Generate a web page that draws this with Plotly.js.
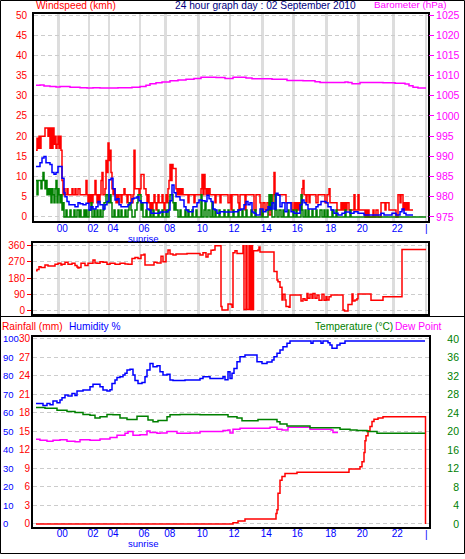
<!DOCTYPE html>
<html><head><meta charset="utf-8">
<script src="https://cdn.plot.ly/plotly-3.0.1.min.js"></script>
<style>html,body{margin:0;padding:0;background:#fff}#chart{width:465px;height:559px}</style>
</head><body><div id="chart"></div>
<script>
// ---- data (x = record index) ----
const hourTicks = [58.3, 89, 109, 140, 165.7, 198.3, 230, 262.3, 293.3, 326.7, 358.3, 393.3, 426];
const hourLabels = ['00','02','04','06','08','10','12','14','16','18','20','22',''];
const endLabel = '|';
const windTicks = [0,5,10,15,20,25,30,35,40,45,50];
const baroTicks = [975,980,985,990,995,1000,1005,1010,1015,1020,1025];
const dirTicks = [0,90,180,270,360];
const dirLabels = ['N','E','S','W','N'];
const rainTicks = [0,3,6,9,12,15,18,21,24,27,30];
const humTicks = [0,10,20,30,40,50,60,70,80,90,100];
const tempTicks = [0,4,8,12,16,20,24,28,32,36,40];

// wind gust (km/h)
const gust = [[36,16.5],[37,19.5],[38,17],[39,20],[40,17],[41,20],[43,20],[45,22],[48,20],[49,22],[50,17],[51,22],[52,17],[53,22],[54,18],[55,20],[56,17],[57,18],[58,20],[59,17],[60,20],[61,16.5],[62,9],[63,5.5],[64,7],[65,5.5],[67,7],[68,5.5],[72,7],[73,5.5],[75,7],[76,5.5],[78,7],[80,5.5],[86,9],[87,5.5],[88,3.5],[89,5.5],[90,3.5],[91,5.5],[92,3.5],[93,5.5],[95,9],[96,5.5],[97,3.5],[98,5.5],[99,3.5],[100,5.5],[101,9],[102,11],[103,5.5],[105,7],[106,14],[107,11],[108,18.3],[109,14],[110,16.5],[111,11],[112,7],[113,5.5],[114,7],[115,5.5],[116,3.5],[117,5.5],[118,3.5],[119,5.5],[121,3.5],[122,5.5],[124,7],[125,5.5],[127,3.5],[128,5.5],[131,3.5],[133,5.5],[134,16.5],[135,7],[139,5.5],[140,7],[141,10.5],[144,7],[146,5.5],[147,3.5],[148,5.5],[149,3.5],[150,1.7],[151,3.5],[152,1.7],[153,3.5],[154,5.5],[155,3.5],[156,1.7],[157,3.5],[158,5.5],[159,3.5],[162,5.5],[163,3.5],[164,1.7],[165,3.5],[166,5.5],[167,3.5],[168,7],[169,9],[170,13],[171,9],[172,13],[173,12],[176,7],[177,5.5],[178,7],[179,5.5],[180,7],[181,5.5],[182,7],[183,5.5],[188,3.5],[189,5.5],[194,3.5],[195,5.5],[201,7],[202,10.5],[203,5.5],[204,10.5],[205,7],[206,5.5],[207,7],[208,5.5],[209,7],[210,5.5],[215,3.5],[216,5.5],[220,3.5],[221,5.5],[228,3.5],[230,5.5],[231,1.7],[232,5.5],[238,3.5],[239,1.7],[240,5.5],[245,1.7],[246,5.5],[254,1.7],[256,5.5],[260,3.5],[261,0.5],[263,3.5],[265,1.7],[267,3.5],[269,0.5],[271,3.5],[273,5.5],[274,11],[275,5.5],[286,3.5],[292,1.7],[294,3.5],[295,1.7],[296,3.5],[297,1.7],[298,3.5],[299,1.7],[300,3.5],[302,7],[303,9],[304,5.5],[306,3.5],[307,5.5],[309,3.5],[310,5.5],[316,3.5],[318,5.5],[325,3.5],[327,5.5],[329,7],[330,3.5],[337,1.7],[341,3.5],[342,1.7],[343,3.5],[344,1.7],[345,3.5],[346,1.7],[347,3.5],[349,1.7],[354,5.5],[355,1.7],[358,5.5],[359,1.7],[365,0],[366,1.7],[367,0],[368,1.7],[369,0],[373,1.7],[374,0],[376,1.7],[378,0],[381,3.5],[385,1.7],[386,3.5],[389,1.7],[396,0],[398,5.5],[400,3.5],[401,5.5],[402,5.5],[403,1.7],[404,3.5],[405,1.7],[406,3.5],[407,1.7],[408,3.5],[409,1.7],[413,1.7]];

// wind speed (km/h)
const speed = [[36,9],[37,5.5],[38,9],[40,9],[41,7],[42,9],[43,11],[44,9],[45,7],[46,9],[47,5.5],[48,7],[49,5.5],[50,7],[51,3.5],[52,7],[53,5.5],[54,3.5],[55,7],[56,9],[57,3.5],[58,7],[59,5.5],[60,3.5],[61,5.5],[62,1.7],[63,3.5],[64,0],[66,1.7],[67,0],[70,1.7],[71,0],[74,1.7],[75,0],[77,1.7],[79,0],[80,1.7],[81,0],[84,1.7],[85,0],[86,1.7],[87,0],[89,1.7],[91,3.5],[92,0],[94,1.7],[95,0],[97,1.7],[98,0],[100,1.7],[101,0],[103,1.7],[104,3.5],[106,5.5],[108,3.5],[110,5.5],[111,3.5],[112,0],[114,1.7],[115,0],[118,1.7],[119,0],[121,1.7],[122,0],[125,1.7],[126,0],[128,1.7],[129,3.5],[131,1.7],[132,0],[135,1.7],[137,3.5],[138,5.5],[140,5.5],[141,1.7],[142,3.5],[143,0],[146,1.7],[147,0],[150,1.7],[151,0],[153,1.7],[154,0],[158,1.7],[159,0],[162,1.7],[163,0],[166,1.7],[167,0],[169,3.5],[170,5.5],[172,5.5],[173,3.5],[174,1.7],[175,3.5],[176,1.7],[178,0],[180,1.7],[181,0],[185,1.7],[186,0],[188,1.7],[189,0],[192,1.7],[193,0],[196,1.7],[197,0],[201,5.5],[202,0],[204,1.7],[205,3.5],[206,0],[208,1.7],[210,0],[212,3.5],[213,0],[215,1.7],[216,0],[219,1.7],[220,0],[224,1.7],[225,0],[228,1.7],[229,0],[233,1.7],[234,0],[238,1.7],[239,0],[242,1.7],[243,0],[246,1.7],[247,0],[251,1.7],[252,0],[255,1.7],[256,0],[262,1.7],[263,0],[268,1.7],[269,5.5],[270,1.7],[271,5.5],[272,0],[275,5.5],[276,1.7],[277,0],[279,1.7],[281,0],[283,1.7],[284,0],[288,1.7],[289,0],[293,1.7],[294,0],[296,1.7],[297,0],[301,5.5],[302,1.7],[303,0],[305,1.7],[306,0],[308,1.7],[309,0],[312,1.7],[313,0],[316,1.7],[317,0],[320,1.7],[322,0],[324,1.7],[325,0],[327,1.7],[328,0],[332,1.7],[333,0],[336,1.7],[337,0],[345,1.7],[346,0],[350,1.7],[351,0],[426,0]];

// average wind (km/h)
const avgWind = [[36,12.5],[38,12.5],[40,13.4],[42,14.6],[44,15],[46,13.4],[48,13.4],[50,13],[52,11],[54,10.6],[56,11],[58,12.5],[60,12.5],[62,9.6],[64,6],[65,5],[67,3.8],[69,3],[73,3],[75,2.5],[78,3.5],[80,3.3],[83,3],[86,3.4],[89,1.7],[91,2.5],[93,2],[96,2.5],[98,3.8],[100,3],[103,2],[105,3],[107,3.8],[109,9.2],[111,9.6],[113,7],[115,4.2],[117,4.5],[119,3],[121,2.5],[125,2.5],[128,3],[130,3.5],[132,4.5],[134,4.7],[137,5],[139,4],[141,3.5],[145,3.5],[147,2],[149,1.7],[151,0.9],[157,0.9],[160,1.2],[165,1.2],[168,1.7],[170,4],[172,7.9],[174,6],[176,5],[180,4.2],[184,2.5],[186,1.7],[188,1.3],[191,1.3],[193,2.5],[197,3.5],[199,4.2],[202,4],[205,3.8],[207,5.4],[209,4.5],[211,3.8],[213,2],[215,1.7],[217,0.9],[220,1.3],[224,1.2],[234,1.3],[238,1.7],[241,2],[244,3],[246,3.8],[248,3],[250,3.5],[252,1.2],[254,0.9],[256,0.5],[260,2],[263,1.3],[266,1.7],[268,2.5],[270,2],[272,3.5],[274,2],[276,5.9],[278,5.4],[280,2.5],[282,3.5],[285,1.3],[287,3.5],[291,1.3],[294,0.9],[300,3],[302,4.2],[304,3.5],[306,3],[308,2],[316,2.5],[318,3],[321,3.8],[326,3.5],[328,2.5],[331,1.7],[334,0.9],[338,0.5],[342,0.9],[345,1.2],[350,0.9],[354,1.3],[358,0.9],[364,0.5],[381,0.9],[384,0.5],[392,0.9],[396,0.5],[400,1.3],[402,2],[404,0.9],[406,0.5],[413,0.5]];

// barometer (hPa)
const baro = [[36,1007.6],[40,1007.7],[44,1007.4],[50,1007.3],[56,1007.2],[60,1007.3],[66,1007.3],[70,1007.1],[80,1007.0],[87,1006.9],[93,1007.0],[100,1006.9],[110,1006.9],[118,1007.0],[132,1007.1],[140,1007.3],[146,1007.6],[150,1008.0],[156,1008.2],[162,1008.4],[170,1008.7],[178,1008.9],[186,1009.1],[194,1009.3],[201,1009.6],[210,1009.6],[216,1009.5],[225,1009.3],[233,1009.6],[240,1009.6],[246,1009.4],[252,1009.2],[262,1009.2],[272,1009.1],[280,1009.1],[287,1008.8],[295,1008.8],[303,1008.7],[315,1008.5],[320,1008.3],[345,1008.4],[348,1008.3],[352,1008.0],[358,1008.0],[360,1008.3],[372,1008.3],[383,1008.2],[395,1008.1],[405,1007.9],[409,1007.5],[413,1007.1],[418,1006.9],[426,1006.9]];

// wind direction (degrees)
const direction = [[36,220],[37,227],[39,242],[41,237],[45,251],[48,246],[55,255],[58,260],[61,251],[62,255],[65,266],[68,255],[72,260],[75,248],[77,240],[78,234],[79,237],[81,260],[85,248],[88,260],[93,278],[95,262],[97,260],[100,269],[103,266],[107,255],[110,260],[115,255],[120,260],[125,257],[128,255],[132,287],[135,292],[138,287],[141,305],[144,309],[145,251],[153,251],[154,266],[157,262],[161,299],[163,269],[166,311],[168,333],[170,311],[173,305],[176,311],[187,314],[200,305],[203,318],[206,295],[208,311],[211,331],[213,333],[215,356],[220,356],[221,24],[222,5],[228,38],[231,35],[232,20],[233,318],[235,329],[237,314],[243,356],[244,8],[246,356],[247,8],[249,356],[250,8],[251,356],[252.5,8],[253.5,329],[258,333],[259,349],[260,322],[274,215],[277,169],[278,160],[280,129],[282,60],[283,92],[285,60],[286,24],[289,20],[290,87],[301,55],[303,67],[305,58],[307,95],[308,69],[310,91],[312,69],[313,95],[315,69],[317,87],[319,58],[322,91],[324,58],[326,78],[327,60],[329,78],[331,87],[343,5],[344.5,0],[348,35],[352,93],[353,55],[355,60],[357,67],[358,93],[371,58],[383,78],[402,336],[426,336]];

// humidity (%)
const humidity = [[36,65.2],[40,65.2],[43,64],[47,65.2],[50,64.5],[53,66.5],[57,65.5],[60,67],[62,68.3],[65,69.7],[68,69.2],[72,70.6],[75,69.5],[77,71.9],[83,72.4],[90,74.2],[93,75.5],[100,74.2],[103,72.4],[107,71.9],[110,72.6],[112,76],[115,77.8],[117,79.2],[120,79.6],[123,80.5],[125,81.5],[127,83.2],[130,83.6],[133,80.5],[135,77.5],[138,76],[142,76.5],[145,79.6],[147,83.2],[150,86.8],[153,85],[157,85.5],[160,82.3],[163,80.5],[167,81],[170,77.8],[173,77.5],[185,77.8],[200,78.7],[203,79.6],[210,78.7],[223,79.6],[225,78],[228,82.3],[230,78.7],[232,81.5],[234,84],[237,87.7],[240,90.4],[245,91.4],[257,87.7],[262,86.8],[267,87.5],[272,88.6],[274,90.4],[277,92.3],[280,94.1],[283,95.8],[287,97.7],[290,98.9],[311,97.7],[313,98.9],[321,97.7],[323,98.9],[328,98],[330,96.7],[332,95],[337,96.7],[340,97.7],[345,98.9],[425,98.9]];

// temperature (°C)
const temperature = [[36,25.2],[45,25.0],[57,24.6],[67,24.3],[75,24.1],[83,23.7],[90,23.5],[95,22.9],[100,23.2],[107,23.7],[113,23.6],[120,22.9],[127,22.6],[137,23.3],[148,22.5],[153,22.1],[158,22.4],[167,23.2],[170,23.6],[180,23.7],[200,23.6],[228,23.2],[237,22.9],[242,22.3],[258,22.6],[277,22.1],[280,21.6],[287,21.2],[310,20.8],[340,20.5],[350,20.3],[357,20.2],[367,20.0],[377,19.6],[425,19.6]];

// dew point (°C)
const dewPoint = [[36,18.3],[40,18.1],[47,17.9],[53,18.1],[60,18.2],[67,17.9],[75,17.8],[80,18.2],[90,18.1],[100,18.4],[110,18.7],[117,19.2],[125,19.6],[128,20.0],[133,19.2],[140,19.3],[147,20.1],[150,19.8],[157,19.6],[160,19.7],[167,20.0],[177,19.6],[190,19.7],[200,20.0],[223,20.2],[228,20.3],[230,19.7],[233,20.5],[240,20.7],[270,20.9],[277,20.5],[282,20.3],[288,20.9],[310,20.5],[331,20.3],[333,19.8],[338,19.8]];

// rainfall (mm)
const rainfall = [[36,0],[232,0],[233,0.2],[238,0.5],[245,0.8],[276,1.7],[277,2.3],[278,5.0],[280,7.1],[282,7.7],[285,8.2],[297,8.4],[349,8.9],[360,9.3],[362,10.1],[364,11.6],[365,13.5],[366,14.3],[368,15.1],[370,15.8],[372,16.6],[374,17.0],[378,17.2],[383,17.4],[425,17.4],[425.5,0]];

// ---- drawing ----
const W = 465, H = 559;
const fx = v => v / W, fy = v => 1 - v / H;
const FONT = 'Liberation Sans, Arial, sans-serif';
const RED = '#ff0000', BLUE = '#0000ff', GREEN = '#008000', MAG = '#ff00ff', NAVY = '#000080';
const xs = a => a.map(p => p[0]), ys = a => a.map(p => p[1]);
const line = (data, color, w, xa, ya) => ({x: xs(data), y: ys(data), type: 'scatter', mode: 'lines',
  line: {color: color, width: w, shape: 'hv'}, xaxis: xa, yaxis: ya, hoverinfo: 'skip', showlegend: false});

const traces = [
  line(gust, RED, 1.5, 'x', 'y'),
  line(speed, GREEN, 1.5, 'x', 'y'),
  line(avgWind, BLUE, 1.5, 'x', 'y'),
  line(baro, MAG, 1.5, 'x', 'y2'),
  line(direction, RED, 1.5, 'x2', 'y3'),
  line(dewPoint, MAG, 1.5, 'x3', 'y7'),
  line(temperature, GREEN, 1.5, 'x3', 'y7'),
  line(humidity, BLUE, 1.5, 'x3', 'y6'),
  line(rainfall, RED, 1.5, 'x3', 'y5')
];

const frame = {showline: true, linecolor: '#000', linewidth: 2, mirror: true, zeroline: false, fixedrange: true};
const dashGrid = {showgrid: true, gridcolor: '#cccccc', griddash: '4px,3px', gridwidth: 1};
const vGrid = {showgrid: true, gridcolor: '#dddddd', gridwidth: 2.5};
const tf = (c, s) => ({family: FONT, color: c, size: s || 10});
const HS = 10.2; // header font size

const layout = {
  width: W, height: H, margin: {l: 0, r: 0, t: 0, b: 0},
  paper_bgcolor: '#fff', plot_bgcolor: '#fff', showlegend: false,
  font: {family: FONT},
  xaxis: Object.assign({domain: [fx(34), fx(428)], range: [34, 428], anchor: 'y', tickmode: 'array',
    tickvals: hourTicks, ticktext: hourLabels, ticks: '', tickfont: tf(BLUE), ticklabelshift: 4,
    ticklabelstandoff: -3}, frame, vGrid),
  yaxis: Object.assign({domain: [fy(221), fy(14)], range: [-1, 50.25], anchor: 'x', tickmode: 'array',
    tickvals: windTicks, ticks: '', tickfont: tf(RED), ticklabelstandoff: 3}, frame, dashGrid),
  yaxis2: {overlaying: 'y', side: 'right', anchor: 'x', range: [974, 1025.25], tickmode: 'array',
    tickvals: baroTicks, ticks: 'outside', ticklen: 5, tickcolor: MAG, tickwidth: 1, tickfont: tf(MAG, 10.5),
    showgrid: false, zeroline: false, showline: false, fixedrange: true},
  xaxis2: Object.assign({domain: [fx(33), fx(428)], range: [33, 428], anchor: 'y3', tickmode: 'array',
    tickvals: hourTicks, showticklabels: false, ticks: ''}, frame, vGrid),
  yaxis3: Object.assign({domain: [fy(314), fy(243)], range: [-16.4, 370.9], anchor: 'x2', tickmode: 'array',
    tickvals: dirTicks, ticks: 'outside', ticklen: 4, tickcolor: RED, tickwidth: 1, tickfont: tf(RED)}, frame, dashGrid),
  yaxis4: {overlaying: 'y3', side: 'right', anchor: 'x2', range: [-16.4, 370.9], tickmode: 'array',
    tickvals: dirTicks, ticktext: dirLabels, ticks: '', tickfont: tf(RED, 12.5), ticklabelstandoff: 6,
    showgrid: false, zeroline: false, showline: false, fixedrange: true},
  xaxis3: Object.assign({domain: [fx(33), fx(429)], range: [33, 429], anchor: 'y5', tickmode: 'array',
    tickvals: hourTicks, ticktext: hourLabels, ticks: '', tickfont: tf(BLUE), ticklabelshift: 4,
    ticklabelstandoff: -4, showgrid: false}, frame),
  yaxis5: Object.assign({domain: [fy(527), fy(337)], range: [-0.49, 30.32], anchor: 'x3', tickmode: 'array',
    tickvals: rainTicks, ticks: '', tickfont: tf(RED), ticklabelstandoff: -1}, frame, dashGrid),
  yaxis6: {overlaying: 'y5', side: 'left', anchor: 'free', position: fx(0), ticklabelposition: 'inside',
    ticklabeloverflow: 'allow', ticklabelstandoff: -1,
    range: [-1.62, 101.08], tickmode: 'array', tickvals: humTicks, ticks: '', tickfont: tf(BLUE, 9.5),
    showgrid: false, zeroline: false, showline: false, fixedrange: true},
  yaxis7: {overlaying: 'y5', side: 'right', anchor: 'free', position: fx(462), ticklabelposition: 'inside',
    ticklabeloverflow: 'allow',
    range: [-0.65, 40.43], tickmode: 'array', tickvals: tempTicks, ticks: '', tickfont: tf(GREEN, 10.5),
    showgrid: false, zeroline: false, showline: false, fixedrange: true},
  annotations: [
    {text: 'Windspeed (kmh)', x: fx(34), y: fy(5.5), xanchor: 'left', font: tf(RED, HS)},
    {text: '24 hour graph day : 02 September 2010', x: fx(265.5), y: fy(5.5), xanchor: 'center', font: tf(NAVY, HS)},
    {text: 'Barometer (hPa)', x: fx(372), y: fy(5), xanchor: 'left', font: tf(MAG, 9.8)},
    {text: 'sunrise', x: fx(143), y: fy(238.5), xanchor: 'center', font: tf(BLUE, 9.5)},
    {text: endLabel, x: fx(426), y: fy(228), xanchor: 'center', font: tf(BLUE)},
    {text: 'Rainfall (mm)', x: fx(0), y: fy(327), xanchor: 'left', font: tf(RED, HS)},
    {text: 'Humidity %', x: fx(67), y: fy(327), xanchor: 'left', font: tf(BLUE, HS)},
    {text: 'Temperature (°C)', x: fx(313), y: fy(327), xanchor: 'left', font: tf(GREEN, HS)},
    {text: 'Dew Point', x: fx(393), y: fy(327), xanchor: 'left', font: tf(MAG, HS)},
    {text: 'sunrise', x: fx(143), y: fy(543), xanchor: 'center', font: tf(BLUE, 9.5)},
    {text: endLabel, x: fx(426), y: fy(534), xanchor: 'center', font: tf(BLUE)}
  ].map(a => Object.assign({xref: 'paper', yref: 'paper', yanchor: 'middle', showarrow: false}, a)),
  shapes: [
    {type: 'rect', xref: 'paper', yref: 'paper', x0: fx(0.5), x1: fx(464.5), y0: fy(553.5), y1: fy(0.5),
     line: {color: '#000', width: 1}},
    {type: 'line', xref: 'paper', yref: 'paper', x0: fx(0), x1: fx(465), y0: fy(316.5), y1: fy(316.5),
     line: {color: '#000', width: 1}}
  ]
};

Plotly.newPlot('chart', traces, layout, {staticPlot: true, displayModeBar: false});
</script></body></html>
